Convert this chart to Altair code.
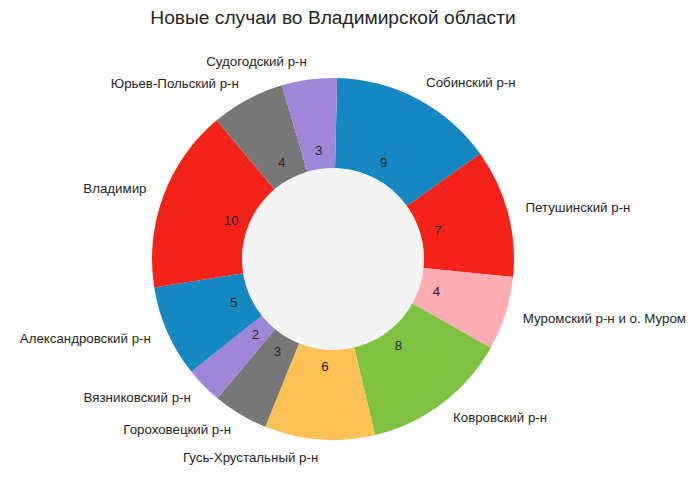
import math
import altair as alt
import pandas as pd

title = "Новые случаи во Владимирской области"
districts = ["Собинский р-н", "Петушинский р-н", "Муромский р-н и о. Муром",
             "Ковровский р-н", "Гусь-Хрустальный р-н", "Гороховецкий р-н",
             "Вязниковский р-н", "Александровский р-н", "Владимир",
             "Юрьев-Польский р-н", "Судогодский р-н"]
cases = [9, 7, 4, 8, 6, 3, 2, 5, 10, 4, 3]
colors = ["#1688c1", "#f5221a", "#ffacb3", "#7fc241", "#fec155", "#777777",
          "#9f86d9", "#1688c1", "#f5221a", "#777777", "#9f86d9"]

total = sum(cases)
starts, ends = [], []
acc = 0
for v in cases:
    starts.append(acc)
    acc += v
    ends.append(acc)
df = pd.DataFrame({
    "district": districts, "cases": cases, "start": starts, "end": ends,
    "mid": [(s + e) / 2 for s, e in zip(starts, ends)], "color": colors,
})
offset = math.radians(1.3)
theta_scale = alt.Scale(domain=[0, total], range=[offset, offset + 2 * math.pi])

CX, CY = 325, 211
R = 181
FONT = "Liberation Sans"
FS = 13.3

base = alt.Chart(df)
wedges = base.mark_arc(radius=R, radius2=90.5).encode(
    theta=alt.Theta("start:Q", scale=theta_scale),
    theta2="end:Q",
    color=alt.Color("color:N", scale=None),
    x=alt.value(CX), y=alt.value(CY),
)
hole = alt.Chart(pd.DataFrame({"a": [0]})).mark_arc(
    radius=91, theta=0, theta2=2 * math.pi, color="#f4f4f4"
).encode(x=alt.value(CX), y=alt.value(CY))

values = base.mark_text(font=FONT, fontSize=FS, color="#262626",
                        baseline="middle", align="center").encode(
    theta=alt.Theta("mid:Q", scale=theta_scale),
    radius=alt.value(0.6 * R),
    text="cases:Q",
    x=alt.value(CX), y=alt.value(CY),
)
lab_right = base.transform_filter(f"datum.mid < {total / 2}").mark_text(
    font=FONT, fontSize=FS, color="#262626", baseline="middle", align="left"
).encode(
    theta=alt.Theta("mid:Q", scale=theta_scale),
    radius=alt.value(1.1 * R),
    text="district:N",
    x=alt.value(CX), y=alt.value(CY),
)
lab_left = base.transform_filter(f"datum.mid >= {total / 2}").mark_text(
    font=FONT, fontSize=FS, color="#262626", baseline="middle", align="right"
).encode(
    theta=alt.Theta("mid:Q", scale=theta_scale),
    radius=alt.value(1.1 * R),
    text="district:N",
    x=alt.value(CX), y=alt.value(CY),
)

chart = alt.layer(wedges, hole, values, lab_right, lab_left).properties(
    width=2 * CX, height=447,
    title=alt.TitleParams(title, font=FONT, fontSize=19.2, fontWeight="normal",
                          color="#262626", anchor="middle", offset=20),
    autosize=alt.AutoSizeParams(type="none"),
    padding={"left": 0, "top": 40, "right": 29, "bottom": 0},
).configure_view(stroke=None)

chart.save("out.html", embed_options={"renderer": "svg", "actions": False})
